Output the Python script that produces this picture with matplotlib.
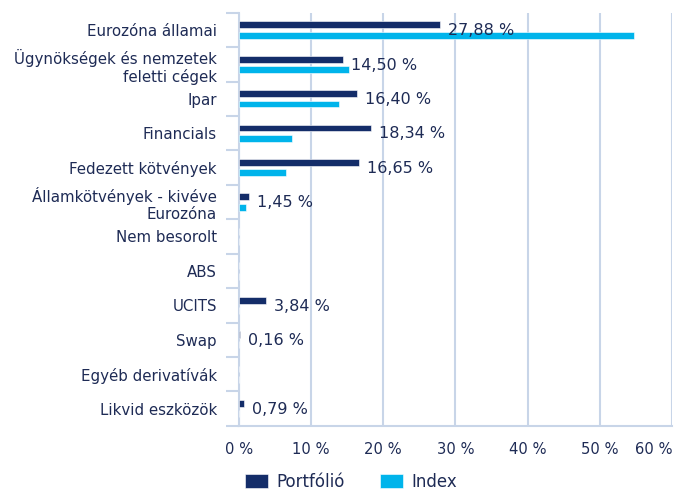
import numpy as np
import matplotlib.pyplot as plt

# data
categories = ["Eurozóna államai", "Ügynökségek és nemzetek\nfeletti cégek", "Ipar",
              "Financials", "Fedezett kötvények", "Államkötvények - kivéve\nEurozóna",
              "Nem besorolt", "ABS", "UCITS", "Swap", "Egyéb derivatívák", "Likvid eszközök"]
portfolio = [27.88, 14.50, 16.40, 18.34, 16.65, 1.45, 0, 0, 3.84, 0.16, 0, 0.79]
index_vals = [54.7, 15.2, 13.9, 7.4, 6.5, 1.0, 0, 0, 0, 0, 0, 0]
labels = ["27,88 %", "14,50 %", "16,40 %", "18,34 %", "16,65 %", "1,45 %",
          "", "", "3,84 %", "0,16 %", "", "0,79 %"]
x_ticks = [0, 10, 20, 30, 40, 50, 60]

navy = '#142d69'
cyan = '#00b4eb'
text_c = '#1e2b55'
grid_c = '#c8d5e8'

plt.rcParams['font.family'] = ['DejaVu Sans']

fig = plt.figure(figsize=(6.88, 4.9), dpi=100)
ax = fig.add_axes([0.347, 0.131, 0.63, 0.843])

y = np.arange(len(categories))
h = 0.2
ax.barh(y - 0.15, portfolio, height=h, color=navy, edgecolor='white', linewidth=0.4, label='Portfólió', zorder=3)
ax.barh(y + 0.15, index_vals, height=h, color=cyan, edgecolor='white', linewidth=0.4, label='Index', zorder=3)

for yi, v, t in zip(y, portfolio, labels):
    if t:
        ax.text(v + 1.1, yi + 0.02, t, va='center', ha='left', fontsize=11.5, color=text_c, zorder=4)

ax.set_ylim(len(categories) - 0.5, -0.5)
ax.set_xlim(0, 60)
ax.set_yticks(y)
ax.set_yticklabels(categories, fontsize=10.8, color=text_c)
ax.set_yticks(np.arange(-0.5, len(categories)), minor=True)
ax.tick_params(axis='y', which='major', length=0, pad=15.8)
ax.tick_params(axis='y', which='minor', length=9.4, width=1.5, color=grid_c)

ax.set_xticks(x_ticks)
ax.set_xticklabels([f"{t} %" for t in x_ticks], fontsize=10.6, color=text_c)
ax.tick_params(axis='x', length=0, pad=12)
ax.get_xticklabels()[-1].set_horizontalalignment('right')

ax.grid(axis='x', color=grid_c, linewidth=1.5, zorder=0)
for s in ['top', 'right']:
    ax.spines[s].set_visible(False)
for s in ['left', 'bottom']:
    ax.spines[s].set_color(grid_c)
    ax.spines[s].set_linewidth(1.5)

leg = fig.legend(loc='lower center', bbox_to_anchor=(0.51, -0.032), ncol=2, frameon=False,
                 fontsize=12, handlelength=1.4, handleheight=0.95, handletextpad=0.5,
                 columnspacing=2.1)
for t in leg.get_texts():
    t.set_color(text_c)

fig.savefig('out.png', dpi=100)
